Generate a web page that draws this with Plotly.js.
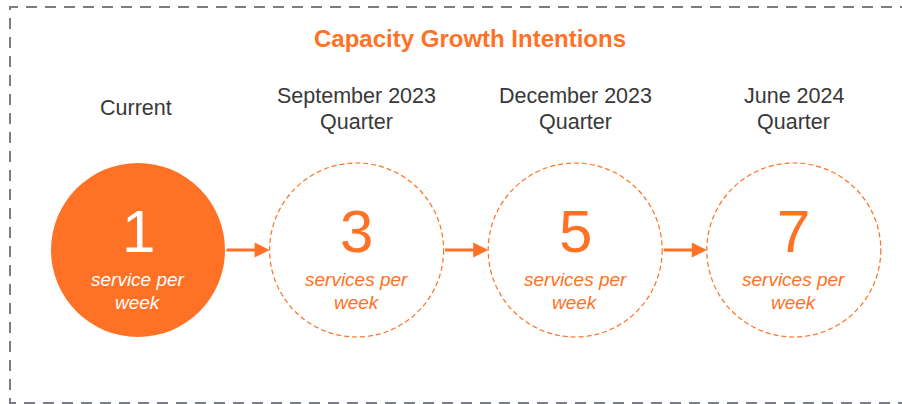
<!DOCTYPE html>
<html>
<head>
<meta charset="utf-8">
<script src="https://cdn.plot.ly/plotly-3.0.1.min.js"></script>
<style>html,body{margin:0;padding:0;background:#fff;}#chart{width:902px;height:404px;}</style>
</head>
<body>
<div id="chart"></div>
<script>
// ---- data ----
const stageLine1 = ['Current', 'September 2023', 'December 2023', 'June 2024'];
const stageLine2 = ['', 'Quarter', 'Quarter', 'Quarter'];
const counts = [1, 3, 5, 7];
const unitLine1 = ['service per', 'services per', 'services per', 'services per'];
const unitLine2 = ['week', 'week', 'week', 'week'];
const titleText = 'Capacity Growth Intentions';

// ---- layout constants ----
const ORANGE = '#FF7125';
const GREY_TEXT = '#383838';
const FONT = 'Liberation Sans, Arial, sans-serif';
const cx0 = 138, step = 218.6, cy = 250, R = 87;

const shapes = [];
const annotations = [];

// border (left, top, bottom; right edge runs off the picture)
shapes.push({type:'path', xref:'x', yref:'y', path:'M 930,7 L 10,7 L 10,403 L 930,403',
  line:{color:'#7a7d82', width:2, dash:'11px,8px'}});

annotations.push({x:470, y:38, xref:'x', yref:'y', text:'<b>'+titleText+'</b>', showarrow:false,
  font:{family:FONT, size:24, color:ORANGE}, xanchor:'center', yanchor:'middle'});

counts.forEach((v, i) => {
  const cx = cx0 + i*step;
  const filled = i === 0;
  shapes.push({type:'circle', xref:'x', yref:'y', x0:cx-R, x1:cx+R, y0:cy-R, y1:cy+R,
    fillcolor: filled ? ORANGE : 'rgba(0,0,0,0)',
    line: filled ? {width:0, color:ORANGE} : {color:ORANGE, width:1.2, dash:'5px,3px'}});
  const txtColor = filled ? '#ffffff' : ORANGE;
  // header
  if (stageLine2[i]) {
    annotations.push({x:cx, y:96, text:stageLine1[i], showarrow:false, font:{family:FONT, size:21.5, color:GREY_TEXT}, xanchor:'center', yanchor:'middle'});
    annotations.push({x:cx, y:122, text:stageLine2[i], showarrow:false, font:{family:FONT, size:21.5, color:GREY_TEXT}, xanchor:'center', yanchor:'middle'});
  } else {
    annotations.push({x:cx-2, y:108, text:stageLine1[i], showarrow:false, font:{family:FONT, size:21.5, color:GREY_TEXT}, xanchor:'center', yanchor:'middle'});
  }
  // number
  annotations.push({x:cx, y:231, text:String(v), showarrow:false, font:{family:FONT, size:60, color:txtColor}, xanchor:'center', yanchor:'middle'});
  annotations.push({x:cx, y:279, text:'<i>'+unitLine1[i]+'</i>', showarrow:false, font:{family:FONT, size:19, color:txtColor}, xanchor:'center', yanchor:'middle'});
  annotations.push({x:cx, y:302, text:'<i>'+unitLine2[i]+'</i>', showarrow:false, font:{family:FONT, size:19, color:txtColor}, xanchor:'center', yanchor:'middle'});
  // arrow to next
  if (i < counts.length - 1) {
    annotations.push({x:cx+step-R, y:cy, ax:cx+R, ay:cy, xref:'x', yref:'y', axref:'x', ayref:'y',
      text:'', showarrow:true, arrowhead:2, arrowsize:1, arrowwidth:3, arrowcolor:ORANGE, standoff:0, startstandoff:0});
  }
});

const layout = {
  width:902, height:404, margin:{l:0, r:0, t:0, b:0},
  paper_bgcolor:'#ffffff', plot_bgcolor:'#ffffff',
  xaxis:{range:[0,902], visible:false, fixedrange:true},
  yaxis:{range:[404,0], visible:false, fixedrange:true},
  showlegend:false, shapes:shapes, annotations:annotations
};
Plotly.newPlot('chart', [{x:[], y:[], type:'scatter', hoverinfo:'skip'}], layout, {staticPlot:true, displayModeBar:false});
</script>
</body>
</html>
